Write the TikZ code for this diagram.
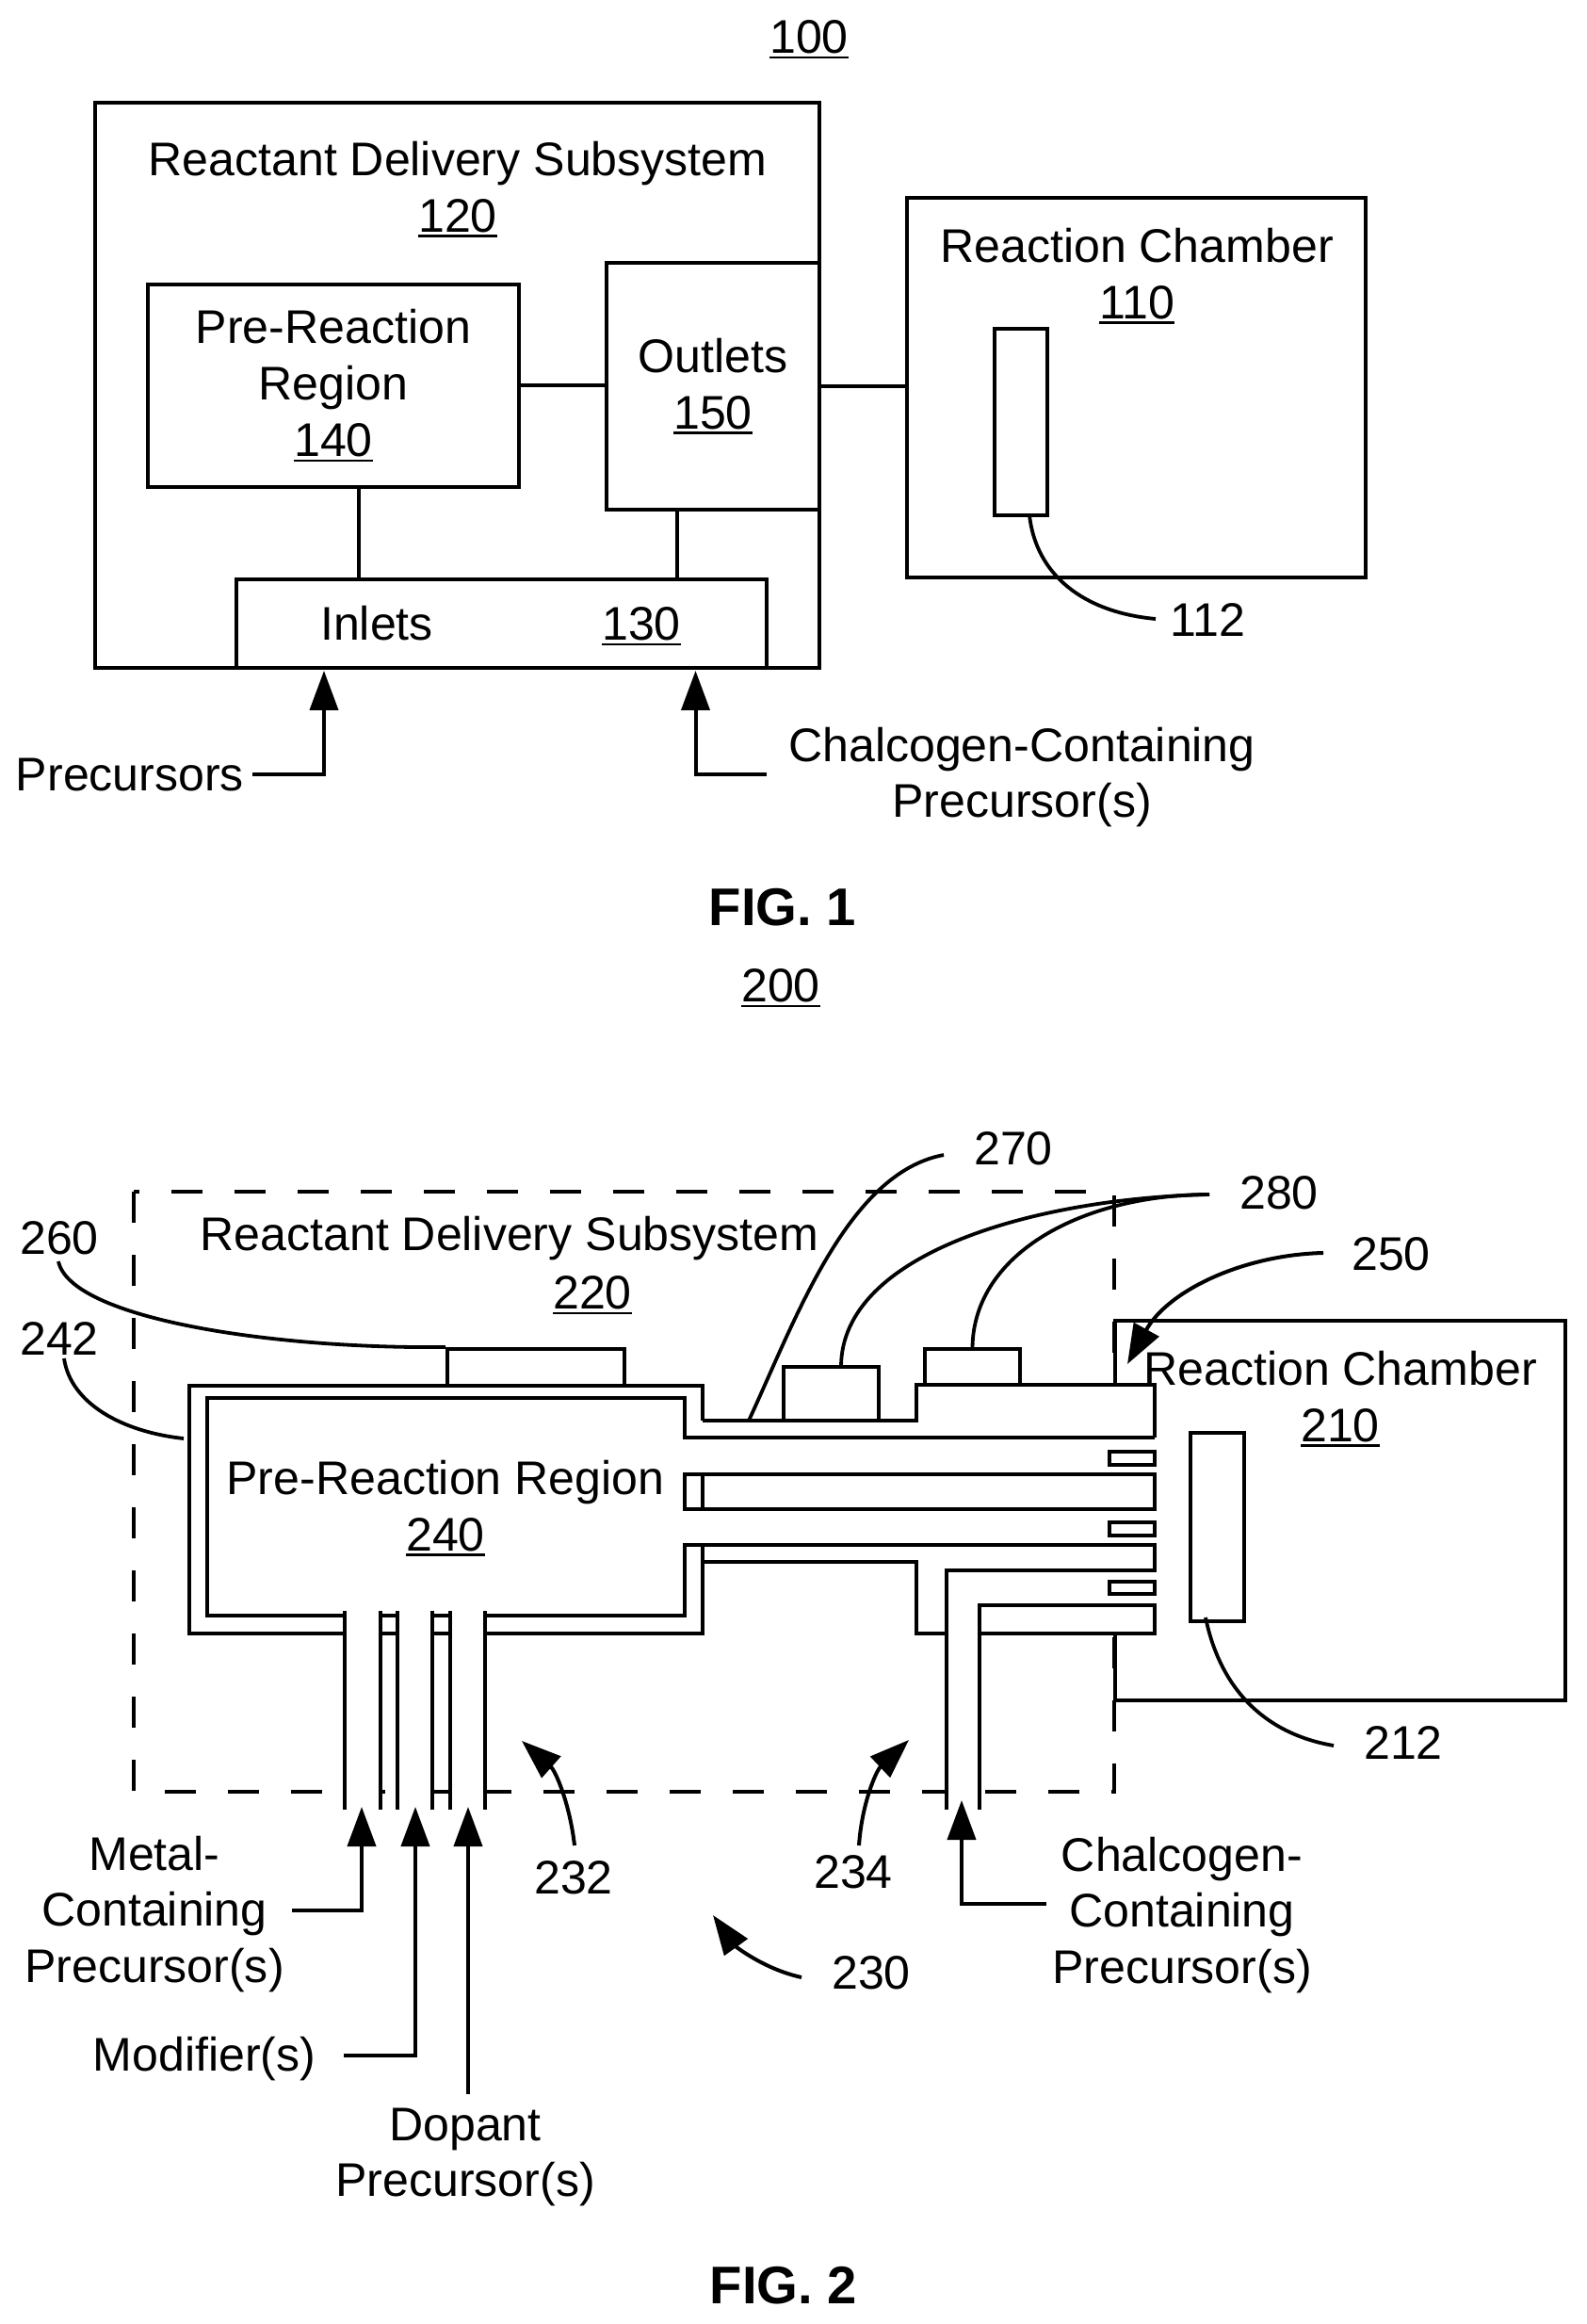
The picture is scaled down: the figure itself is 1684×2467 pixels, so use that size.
\documentclass[tikz,border=0pt]{standalone}
\usepackage{fontspec}
\setmainfont{Liberation Sans}
\usetikzlibrary{positioning, arrows.meta}

\newcommand{\ulnum}[1]{\setbox0\hbox{#1}\leavevmode\rlap{\rule[-1.7pt]{\wd0}{0.8pt}}\box0}

\tikzset{
        box/.style = {rectangle, draw, line width = 0.4mm, inner sep = 0pt, align = center, font = \fontsize{14.25}{17}\selectfont},
        lbl/.style = {inner sep = 0pt, align = center, font = \fontsize{14.25}{17}\selectfont},
        figlbl/.style = {inner sep = 0pt, font = \bfseries\fontsize{16}{18}\selectfont},
        wall/.style = {line width = 0.4mm, line join = miter},
        dashwall/.style = {line width = 0.33mm, dash pattern = on 3.3mm off 3.4mm},
        lead/.style = {line width = 0.38mm},
        feed/.style = {line width = 0.4mm, -{Triangle[length = 4.2mm, width = 3mm]}}
}

\begin{document}
\begin{tikzpicture}[x = 0.1mm, y = -0.1mm]
        \useasboundingbox (0, 0) rectangle (1684, 2467);

        % first figure
        \node[lbl] (num100) at (859, 42) {\ulnum{100}};
        \node[box, minimum width = 76.9mm, minimum height = 60mm] (subsystemA) at (485.5, 409.5) {};
        \node[lbl] (subsystemAText) at (486, 201) {Reactant Delivery Subsystem\\\ulnum{120}};
        \node[box, minimum width = 39.4mm, minimum height = 21.5mm] (preRegion) at (354, 409.5) {Pre-Reaction\\Region\\\ulnum{140}};
        \node[box, minimum width = 22.6mm, minimum height = 26.2mm] (outlets) at (757, 410) {Outlets\\\ulnum{150}};
        \node[box, minimum width = 56.3mm, minimum height = 9.45mm] (inlets) at (532.5, 662.25) {};
        \node[lbl] (inletsText) at (400, 662) {Inlets};
        \node[lbl] (inletsNum) at (681, 665) {\ulnum{130}};
        \node[box, minimum width = 48.7mm, minimum height = 40.3mm] (chamberA) at (1206.5, 411.5) {};
        \node[lbl] (chamberAText) at (1207, 293) {Reaction Chamber\\\ulnum{110}};
        \node[box, minimum width = 5.6mm, minimum height = 19.8mm] (waferA) at (1084, 448) {};
        \node[lbl] (num112) at (1282, 658) {112};
        \node[lbl] (precursors) at (138, 823) {Precursors};
        \node[lbl] (chalcA) at (1085, 825) {Chalcogen-Containing\\Precursor(s)};
        \node[figlbl] (figOne) at (831, 963) {FIG. 1};

        \coordinate (preLink) at (381, 615);
        \coordinate (outLink) at (719, 615);
        \coordinate (lead112) at (1093, 547);
        \coordinate (lead112End) at (1227, 657);
        \coordinate (precStart) at (268, 822);
        \coordinate (precTip) at (344, 712);
        \coordinate (chalcStart) at (814, 822);
        \coordinate (chalcTip) at (738.5, 712);

        \draw[wall] (preRegion.east) edge (outlets.west |- preRegion.east);
        \draw[wall] (outlets.east) edge (chamberA.west |- outlets.east);
        \draw[wall] (preLink) edge (preLink |- preRegion.south);
        \draw[wall] (outLink) edge (outLink |- outlets.south);
        \draw[lead] (lead112) .. controls (1100, 610) and (1150, 650) .. (lead112End);
        \draw[feed] (precStart) -| (precTip);
        \draw[feed] (chalcStart) -| (chalcTip);

        % second figure
        \node[lbl] (num200) at (829, 1049) {\ulnum{200}};
        \draw[dashwall] (142, 1265) rectangle (1183, 1902);

        % manifold and pipes sit on white
        \fill[white] (746, 1470) rectangle (1226, 1734);
        \fill[white] (366, 1734) rectangle (404, 1921);
        \fill[white] (422, 1734) rectangle (459, 1921);
        \fill[white] (478, 1734) rectangle (515, 1921);
        \fill[white] (1005, 1734) rectangle (1040, 1921);

        \node[lbl] (subsystemB) at (541, 1315) {Reactant Delivery Subsystem};
        \node[lbl] (num220) at (629, 1375) {\ulnum{220}};
        \node[lbl] (num260) at (63, 1314) {260};
        \node[lbl] (num242) at (63, 1421) {242};
        \node[lbl] (preRegionB) at (473, 1601) {Pre-Reaction Region\\\ulnum{240}};
        \node[lbl] (num270) at (1076, 1219) {270};
        \node[lbl] (num280) at (1358, 1266) {280};
        \node[lbl] (num250) at (1477, 1331) {250};
        \node[lbl] (num212) at (1490, 1850) {212};
        \node[lbl] (num232) at (609, 1993) {232};
        \node[lbl] (num234) at (906, 1987) {234};
        \node[lbl] (num230) at (925, 2094) {230};
        \node[lbl] (metal) at (164, 2032) {Metal-\\Containing\\Precursor(s)};
        \node[lbl] (modifier) at (217, 2186) {Modifier(s)};
        \node[lbl] (dopant) at (494, 2290) {Dopant\\Precursor(s)};
        \node[lbl] (chalcB) at (1255, 2033) {Chalcogen-\\Containing\\Precursor(s)};
        \node[figlbl] (figTwo) at (832, 2426) {FIG. 2};

        % chamber is open where the manifold enters
        \draw[wall] (1184, 1470) -- (1184, 1402) -- (1662, 1402) -- (1662, 1805) -- (1184, 1805) -- (1184, 1734);
        \node[lbl] (chamberBText) at (1423, 1485) {Reaction Chamber\\\ulnum{210}};
        \node[box, minimum width = 5.7mm, minimum height = 20mm] (waferB) at (1292.5, 1621) {};

        % body walls
        \draw[wall] (746, 1508) -- (746, 1471) -- (201, 1471) -- (201, 1734) -- (366, 1734);
        \draw[wall] (404, 1734) -- (422, 1734);
        \draw[wall] (459, 1734) -- (478, 1734);
        \draw[wall] (515, 1734) -- (746, 1734) -- (746, 1640);
        \draw[wall] (1226, 1526) -- (727, 1526) -- (727, 1484) -- (220, 1484) -- (220, 1715) -- (366, 1715);
        \draw[wall] (404, 1715) -- (422, 1715);
        \draw[wall] (459, 1715) -- (478, 1715);
        \draw[wall] (515, 1715) -- (727, 1715) -- (727, 1640) -- (1226, 1640) -- (1226, 1667) -- (1005, 1667) -- (1005, 1921);
        \draw[wall] (746, 1508) -- (973, 1508) -- (973, 1470) -- (1226, 1470) -- (1226, 1526);
        \draw[wall] (727, 1565) rectangle (1226, 1602);
        \draw[wall] (746, 1565) -- (746, 1602);
        \draw[wall] (746, 1658) -- (973, 1658) -- (973, 1734) -- (1005, 1734);
        \draw[wall] (1040, 1921) -- (1040, 1704) -- (1226, 1704) -- (1226, 1734) -- (1040, 1734);

        % pipes
        \draw[wall] (366, 1710) -- (366, 1921);
        \draw[wall] (404, 1710) -- (404, 1921);
        \draw[wall] (422, 1710) -- (422, 1921);
        \draw[wall] (459, 1710) -- (459, 1921);
        \draw[wall] (478, 1710) -- (478, 1921);
        \draw[wall] (515, 1710) -- (515, 1921);

        % slots and top boxes
        \draw[wall, fill = white] (1178, 1541) rectangle (1226, 1555);
        \draw[wall, fill = white] (1178, 1616) rectangle (1226, 1630);
        \draw[wall, fill = white] (1178, 1679) rectangle (1226, 1692);
        \node[box, minimum width = 18.8mm, minimum height = 3.9mm] (heater) at (569, 1451.5) {};
        \node[box, minimum width = 10.1mm, minimum height = 5.7mm] (sensorA) at (882.5, 1479.5) {};
        \node[box, minimum width = 10.1mm, minimum height = 3.8mm] (sensorB) at (1032.5, 1451) {};

        \coordinate (lead260) at (62, 1339);
        \coordinate (lead242) at (68, 1442);
        \coordinate (lead242End) at (195, 1527);
        \coordinate (lead270) at (1002, 1226);
        \coordinate (lead270End) at (795, 1508);
        \coordinate (lead280) at (1284, 1268);
        \coordinate (lead280End) at (893, 1451);
        \coordinate (lead250) at (1405, 1330);
        \coordinate (tip250) at (1197, 1448);
        \coordinate (lead212) at (1280, 1717);
        \coordinate (lead212End) at (1416, 1853);
        \coordinate (lead234) at (912, 1959);
        \coordinate (tip234) at (965, 1847);
        \coordinate (lead232) at (610, 1959);
        \coordinate (tip232) at (554, 1848);
        \coordinate (lead230) at (851, 2099);
        \coordinate (tip230) at (757, 2033);

        \draw[lead] (lead260) .. controls (75, 1400) and (290, 1432) .. (heater.north west);
        \draw[lead] (lead242) .. controls (75, 1490) and (130, 1520) .. (lead242End);
        \draw[lead] (lead270) .. controls (900, 1245) and (845, 1400) .. (lead270End);
        \draw[lead] (lead280) .. controls (1100, 1272) and (893, 1330) .. (lead280End);
        \draw[lead] (lead280) .. controls (1150, 1268) and (1034, 1330) .. (sensorB.north);
        \draw[lead] (lead212) .. controls (1295, 1790) and (1340, 1840) .. (lead212End);
        \draw[feed] (lead250) .. controls (1320, 1332) and (1240, 1370) .. (tip250);
        \draw[feed] (lead234) .. controls (915, 1915) and (930, 1880) .. (tip234);
        \draw[feed] (lead232) .. controls (605, 1915) and (590, 1880) .. (tip232);
        \draw[feed] (lead230) .. controls (810, 2090) and (780, 2065) .. (tip230);

        \coordinate (metalStart) at (310, 2028);
        \coordinate (metalTip) at (384, 1918);
        \coordinate (modStart) at (365, 2182);
        \coordinate (modTip) at (441, 1918);
        \coordinate (dopStart) at (497, 2223);
        \coordinate (dopTip) at (497, 1918);
        \coordinate (chalcBStart) at (1111, 2021);
        \coordinate (chalcBTip) at (1021, 1911);

        \draw[feed] (metalStart) -| (metalTip);
        \draw[feed] (modStart) -| (modTip);
        \draw[feed] (dopStart) -- (dopTip);
        \draw[feed] (chalcBStart) -| (chalcBTip);
      \end{tikzpicture}
\end{document}
